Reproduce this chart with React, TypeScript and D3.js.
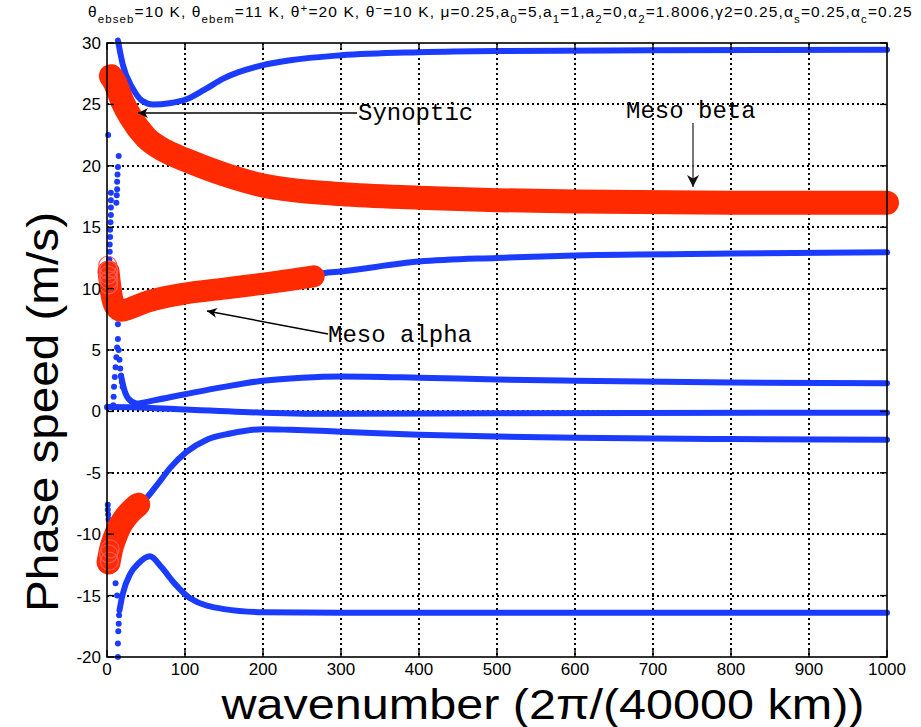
import React from "react";
import * as d3 from "d3";

const W = 921;
const H = 727;
const PL = 107, PR = 887, PT = 43, PB = 657;

const xTicks = [0, 100, 200, 300, 400, 500, 600, 700, 800, 900, 1000];
const yTicks = [-20, -15, -10, -5, 0, 5, 10, 15, 20, 25, 30];

// red (circle-marker) branches
const redSynoptic: [number, number][] = [
  [5, 27.3], [10, 26.8], [20, 25.2], [30, 24.0], [50, 22.3], [75, 21.2], [100, 20.5],
  [150, 19.3], [200, 18.4], [300, 17.7], [400, 17.4], [500, 17.2], [600, 17.1], [800, 17.0], [1000, 17.0],
];
const redMesoAlpha: [number, number][] = [
  [2, 11.4], [5, 9.8], [10, 8.6], [18, 8.2], [30, 8.4], [50, 8.9], [100, 9.6], [150, 10.0], [200, 10.4], [265, 11.0],
];
const redLower: [number, number][] = [
  [2, -12.3], [5, -11.3], [10, -10.3], [16, -9.4], [23, -8.7], [31, -8.1], [40, -7.6],
];
const redOpenCircles: [number, number][] = [
  [1, 11.9], [2, 11.5], [1.5, 11.1], [2.5, 10.7], [2, 10.3], [3, -12.2], [2, -11.6], [4, -11.2],
];

// blue (dot-marker) branches
const blueTop: [number, number][] = [
  [14, 30.2], [20, 28.3], [33, 26.3], [45, 25.3], [59, 25.0], [80, 25.1], [101, 25.4], [125, 26.2],
  [149, 27.1], [200, 28.2], [235, 28.6], [300, 29.0], [400, 29.25], [500, 29.35], [700, 29.4], [1000, 29.45],
];
const blueUpperMid: [number, number][] = [
  [200, 10.4], [265, 11.0], [277, 11.25], [300, 11.4], [400, 12.2], [500, 12.5], [600, 12.7], [800, 12.85], [1000, 12.95],
];
const blueLowMid: [number, number][] = [
  [18, 2.9], [22, 1.8], [28, 1.0], [38, 0.65], [60, 0.9], [100, 1.4], [150, 2.0], [200, 2.5], [250, 2.75],
  [300, 2.85], [400, 2.75], [500, 2.6], [600, 2.5], [800, 2.35], [1000, 2.3],
];
const blueZero: [number, number][] = [
  [0, 0.35], [50, 0.3], [100, 0.15], [200, -0.1], [300, -0.2], [500, -0.15], [1000, -0.1],
];
const blueNeg: [number, number][] = [
  [40, -7.6], [45, -7.4], [64, -6.0], [81, -4.6], [102, -3.3], [128, -2.3], [158, -1.8], [200, -1.45],
  [235, -1.5], [300, -1.65], [400, -1.9], [500, -2.05], [600, -2.15], [800, -2.25], [1000, -2.3],
];
const blueBottom: [number, number][] = [
  [16, -16.2], [20, -14.9], [30, -13.2], [40, -12.4], [55, -11.8], [70, -12.7], [85, -13.9], [106, -15.2],
  [150, -16.1], [200, -16.35], [300, -16.4], [1000, -16.4],
];
const blueDots: [number, number][] = [
  [1.5, 26.3], [1.5, 22.5],
  [15, 20.8], [14, 19.9], [13.5, 19.3], [13, 18.7], [13, 18.1], [12.5, 17.6], [12, 17.0],
  [5, 17.8], [5, 17.2], [5, 16.6], [5, 16.0], [4.5, 15.4], [4, 14.8], [4, 14.2], [3.5, 13.6], [3.5, 13.0], [3, 12.4],
  [14, 7.1], [14, 5.9], [8, 0.5], [8.5, 1.2], [9, 2.0], [10, 2.8], [11, 3.6], [12, 4.4], [13, 5.2],
  [15, 5.0], [16, 4.2], [17, 3.5], [18, 2.9], [19, 2.4], [20, 2.0],
  [1, -7.6], [1, -8.0], [1.5, -8.4], [2, -8.8],
  [11, -14.0], [13, -15.0], [14, -20.0], [14, -18.9], [14.5, -17.9], [15, -17.3], [15.5, -16.6],
];

const titleParts: { t: string; s?: "sub" | "sup" }[] = [
  { t: "θ" }, { t: "ebseb", s: "sub" }, { t: "=10 K, θ" }, { t: "ebem", s: "sub" }, { t: "=11 K, θ" },
  { t: "+", s: "sup" }, { t: "=20 K, θ" }, { t: "−", s: "sup" }, { t: "=10  K, μ=0.25,a" }, { t: "0", s: "sub" },
  { t: "=5,a" }, { t: "1", s: "sub" }, { t: "=1,a" }, { t: "2", s: "sub" }, { t: "=0,α" }, { t: "2", s: "sub" },
  { t: "=1.8006,γ2=0.25,α" }, { t: "s", s: "sub" }, { t: "=0.25,α" }, { t: "c", s: "sub" }, { t: "=0.25" },
];

const BLUE = "#1b3cff";
const RED = "#ff2a00";

export default function App() {
  const x = d3.scaleLinear().domain([0, 1000]).range([PL, PR]);
  const y = d3.scaleLinear().domain([-20, 30]).range([PB, PT]);
  const line = d3
    .line<[number, number]>()
    .x((d) => x(d[0]))
    .y((d) => y(d[1]))
    .curve(d3.curveMonotoneX);

  const sans = "'Liberation Sans', Arial, Helvetica, sans-serif";
  const mono = "'Liberation Mono', 'Courier New', monospace";

  let prev: string | undefined = undefined;
  const shift = (s?: string) => (s === "sub" ? 6 : s === "sup" ? -5 : 0);
  const tspans = titleParts.map((p, i) => {
    const dy = shift(p.s) - shift(prev);
    prev = p.s;
    return (
      <tspan key={i} dy={dy} fontSize={p.s ? 11.5 : 15.5}>
        {p.t}
      </tspan>
    );
  });

  return (
    <svg width={W} height={H} style={{ display: "block", position: "absolute", left: 0, top: 0 }}>
      <defs>
        <marker id="ah" viewBox="0 0 10 10" refX="10" refY="5" markerWidth="14" markerHeight="10" markerUnits="userSpaceOnUse" orient="auto">
          <path d="M0,0 L10,5 L0,10 L3,5 Z" fill="#000" />
        </marker>
        <marker id="ahg" viewBox="0 0 10 10" refX="10" refY="5" markerWidth="14" markerHeight="12" markerUnits="userSpaceOnUse" orient="auto">
          <path d="M0,0 L10,5 L0,10 L3,5 Z" fill="#111" />
        </marker>
      </defs>
      <rect x={0} y={0} width={W} height={H} fill="#fff" />
      {/* grid */}
      <g stroke="#000" strokeWidth={1.6} strokeDasharray="2,3" shapeRendering="crispEdges">
        {xTicks.slice(1, -1).map((t) => (
          <line key={"gx" + t} x1={Math.round(x(t))} x2={Math.round(x(t))} y1={PT} y2={PB} />
        ))}
        {yTicks.slice(1, -1).map((t) => (
          <line key={"gy" + t} x1={PL} x2={PR} y1={Math.round(y(t))} y2={Math.round(y(t))} />
        ))}
      </g>
      {/* blue curves */}
      <g fill="none" stroke={BLUE} strokeWidth={6} strokeLinecap="round" strokeLinejoin="round">
        {[blueTop, blueUpperMid, blueLowMid, blueZero, blueNeg, blueBottom].map((d, i) => (
          <path key={"b" + i} d={line(d) || ""} />
        ))}
      </g>
      <g fill={BLUE}>
        {blueDots.map((d, i) => (
          <circle key={"d" + i} cx={x(d[0])} cy={y(d[1])} r={3} />
        ))}
      </g>
      {/* red curves */}
      <g fill="none" stroke={RED} strokeLinecap="round" strokeLinejoin="round">
        <path d={line(redSynoptic) || ""} strokeWidth={24} />
        <path d={line(redMesoAlpha) || ""} strokeWidth={22} />
        <path d={line(redLower) || ""} strokeWidth={24} />
      </g>
      <g fill="none" stroke="#ff5a55" strokeWidth={1.2}>
        {redOpenCircles.map((d, i) => (
          <circle key={"o" + i} cx={x(d[0])} cy={y(d[1])} r={9} />
        ))}
      </g>
      {/* axes box + ticks */}
      <rect x={PL} y={PT} width={PR - PL} height={PB - PT} fill="none" stroke="#000" strokeWidth={1.6} />
      <g stroke="#000" strokeWidth={1.4}>
        {xTicks.map((t) => (
          <g key={"tx" + t}>
            <line x1={x(t)} x2={x(t)} y1={PB} y2={PB - 7} />
            <line x1={x(t)} x2={x(t)} y1={PT} y2={PT + 7} />
          </g>
        ))}
        {yTicks.map((t) => (
          <g key={"ty" + t}>
            <line x1={PL} x2={PL + 7} y1={y(t)} y2={y(t)} />
            <line x1={PR} x2={PR - 7} y1={y(t)} y2={y(t)} />
          </g>
        ))}
      </g>
      <g fontFamily={sans} fontSize={17} fill="#000">
        {xTicks.map((t) => (
          <text key={"lx" + t} x={x(t)} y={PB + 18} textAnchor="middle">
            {t}
          </text>
        ))}
        {yTicks.map((t) => (
          <text key={"ly" + t} x={PL - 6} y={y(t) + 6} textAnchor="end">
            {t}
          </text>
        ))}
      </g>
      {/* title */}
      <text x={88} y={17} fontFamily={sans} fill="#000" letterSpacing={1.1}>
        {tspans}
      </text>
      {/* axis labels */}
      <text x={543} y={719} textAnchor="middle" fontFamily={sans} fontSize={42} fill="#000" textLength={643} lengthAdjust="spacingAndGlyphs">
        wavenumber (2π/(40000 km))
      </text>
      <text transform="translate(58,412) rotate(-90)" textAnchor="middle" fontFamily={sans} fontSize={44} fill="#000" textLength={400} lengthAdjust="spacingAndGlyphs">
        Phase speed (m/s)
      </text>
      {/* annotations */}
      <line x1={357} y1={113} x2={138} y2={113} stroke="#000" strokeWidth={1.6} markerEnd="url(#ah)" />
      <text x={358} y={120} fontFamily={mono} fontSize={24} fill="#000">Synoptic</text>
      <line x1={693} y1={123} x2={693} y2={187} stroke="#555" strokeWidth={1.6} markerEnd="url(#ahg)" />
      <text x={626} y={118} fontFamily={mono} fontSize={24} fill="#000">Meso beta</text>
      <line x1={328} y1={334} x2={207} y2={311} stroke="#000" strokeWidth={1.4} markerEnd="url(#ah)" />
      <text x={328} y={342} fontFamily={mono} fontSize={24} fill="#000">Meso alpha</text>
    </svg>
  );
}
